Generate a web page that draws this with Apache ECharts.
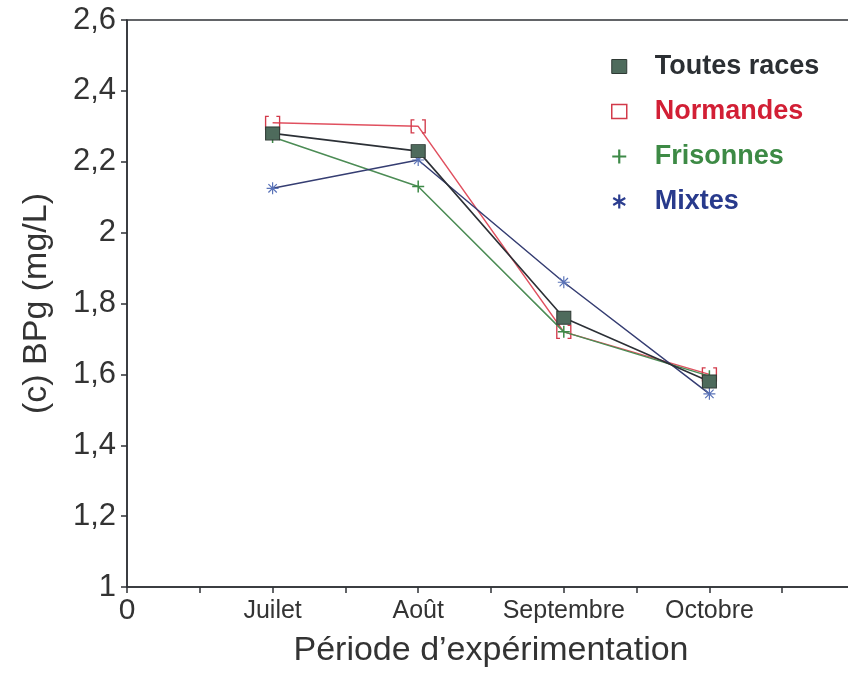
<!DOCTYPE html>
<html>
<head>
<meta charset="utf-8">
<script src="https://cdn.jsdelivr.net/npm/echarts@6/dist/echarts.min.js"></script>
<style>
  html, body { margin: 0; padding: 0; background: #fff; }
  #chart { width: 848px; height: 678px; }
</style>
</head>
<body>
<div id="chart"></div>
<script>
// Sampling periods, placed at x = 1..4 on the value axis
const months = ['Juilet', 'Août', 'Septembre', 'Octobre'];

// BPg (mg/L) per breed group
const toutesRaces = [2.28, 2.23, 1.76, 1.58];
const normandes   = [2.31, 2.30, 1.72, 1.60];
const frisonnes   = [2.27, 2.13, 1.72, 1.595];
const mixtes      = [2.125, 2.205, 1.86, 1.545];

const FONT = '"Liberation Sans", Arial, Helvetica, sans-serif';

const toPairs = vals => vals.map((v, i) => [i + 1, v]);

const bracketPath = 'path://M3,0 L0,0 L0,12 L3,12 M10,0 L13,0 L13,12 L10,12';
const plusPath = 'path://M5,0 L5,10 M0,5 L10,5';
const starPath = 'path://M5,0 L5,10 M0,5 L10,5 M1.5,1.5 L8.5,8.5 M1.5,8.5 L8.5,1.5';
const legendStarPath = 'path://M5,0 L5,10 M0.7,2.5 L9.3,7.5 M0.7,7.5 L9.3,2.5';

const chart = echarts.init(document.getElementById('chart'));

chart.setOption({
  backgroundColor: '#ffffff',
  animation: false,
  grid: {
    left: 127, width: 728, top: 20, bottom: 91,
    containLabel: false,
    outerBoundsMode: 'none',
    show: true, borderColor: '#2f3236', borderWidth: 1.5,
    backgroundColor: 'transparent'
  },
  legend: {
    orient: 'vertical',
    left: 606, top: 48,
    itemWidth: 15, itemHeight: 14,
    itemGap: 18,
    selectedMode: false,
    textStyle: {
      fontFamily: FONT, fontSize: 27, fontWeight: 'bold',
      lineHeight: 26, padding: [0, 0, 0, 23]
    },
    data: [
      { name: 'Toutes races', icon: 'rect',
        itemStyle: { color: '#4e6b5c', borderColor: '#2f3a34', borderWidth: 1 },
        textStyle: { color: '#2b2f33' } },
      { name: 'Normandes', icon: 'rect',
        itemStyle: { color: '#ffffff', borderColor: '#d23a4a', borderWidth: 1.5 },
        textStyle: { color: '#d21f35' } },
      { name: 'Frisonnes', icon: plusPath,
        itemStyle: { color: 'rgba(0,0,0,0)', borderColor: '#3e8a48', borderWidth: 2.2 },
        textStyle: { color: '#3d8a45' } },
      { name: 'Mixtes', icon: legendStarPath,
        itemStyle: { color: 'rgba(0,0,0,0)', borderColor: '#2b3d8f', borderWidth: 2.2 },
        textStyle: { color: '#283a8c' } }
    ]
  },
  xAxis: {
    type: 'value',
    min: 0, max: 5, interval: 0.5,
    name: 'Période d’expérimentation',
    nameLocation: 'middle',
    nameGap: 47,
    nameTextStyle: { fontFamily: FONT, fontSize: 34, color: '#333' },
    axisLine: { lineStyle: { color: '#2f3236', width: 1.5 } },
    axisTick: { show: true, inside: false, length: 6, lineStyle: { color: '#2f3236', width: 1.5 } },
    splitLine: { show: false },
    axisLabel: {
      margin: 8,
      formatter: v => {
        if (v === 0) return '{z|0}';
        const idx = v - 1;
        if (Number.isInteger(v) && idx >= 0 && idx < months.length) return '{m|' + months[idx] + '}';
        return '';
      },
      rich: {
        z: { fontFamily: FONT, fontSize: 30, color: '#333', lineHeight: 32 },
        m: { fontFamily: FONT, fontSize: 25, color: '#333', lineHeight: 32 }
      }
    }
  },
  yAxis: {
    type: 'value',
    min: 1, max: 2.6, interval: 0.2,
    name: '(c) BPg (mg/L)',
    nameLocation: 'middle',
    nameGap: 73,
    nameTextStyle: { fontFamily: FONT, fontSize: 34, color: '#333' },
    axisLine: { show: true, lineStyle: { color: '#2f3236', width: 1.5 } },
    axisTick: { show: true, inside: false, length: 6, lineStyle: { color: '#2f3236', width: 1.5 } },
    splitLine: { show: false },
    axisLabel: {
      margin: 11,
      fontFamily: FONT, fontSize: 31, color: '#333',
      formatter: v => String(Math.round(v * 10) / 10).replace('.', ',')
    }
  },
  series: [
    {
      name: 'Normandes', type: 'line', data: toPairs(normandes),
      symbol: bracketPath, symbolSize: [14, 13],
      lineStyle: { color: '#e0505f', width: 1.5 },
      itemStyle: { color: 'rgba(0,0,0,0)', borderColor: '#d23a4a', borderWidth: 1.3 },
      z: 2
    },
    {
      name: 'Frisonnes', type: 'line', data: toPairs(frisonnes),
      symbol: plusPath, symbolSize: 12,
      lineStyle: { color: '#4c8c55', width: 1.5 },
      itemStyle: { color: 'rgba(0,0,0,0)', borderColor: '#3e8a48', borderWidth: 1.5 },
      z: 3
    },
    {
      name: 'Mixtes', type: 'line', data: toPairs(mixtes),
      symbol: starPath, symbolSize: 12,
      lineStyle: { color: '#353d72', width: 1.5 },
      itemStyle: { color: 'rgba(0,0,0,0)', borderColor: '#5a73b8', borderWidth: 1.2 },
      z: 4
    },
    {
      name: 'Toutes races', type: 'line', data: toPairs(toutesRaces),
      symbol: 'rect', symbolSize: [14, 13],
      lineStyle: { color: '#2c3036', width: 1.6 },
      itemStyle: { color: '#4e6b5c', borderColor: '#2f3a34', borderWidth: 1 },
      z: 5
    }
  ]
});
</script>
</body>
</html>
